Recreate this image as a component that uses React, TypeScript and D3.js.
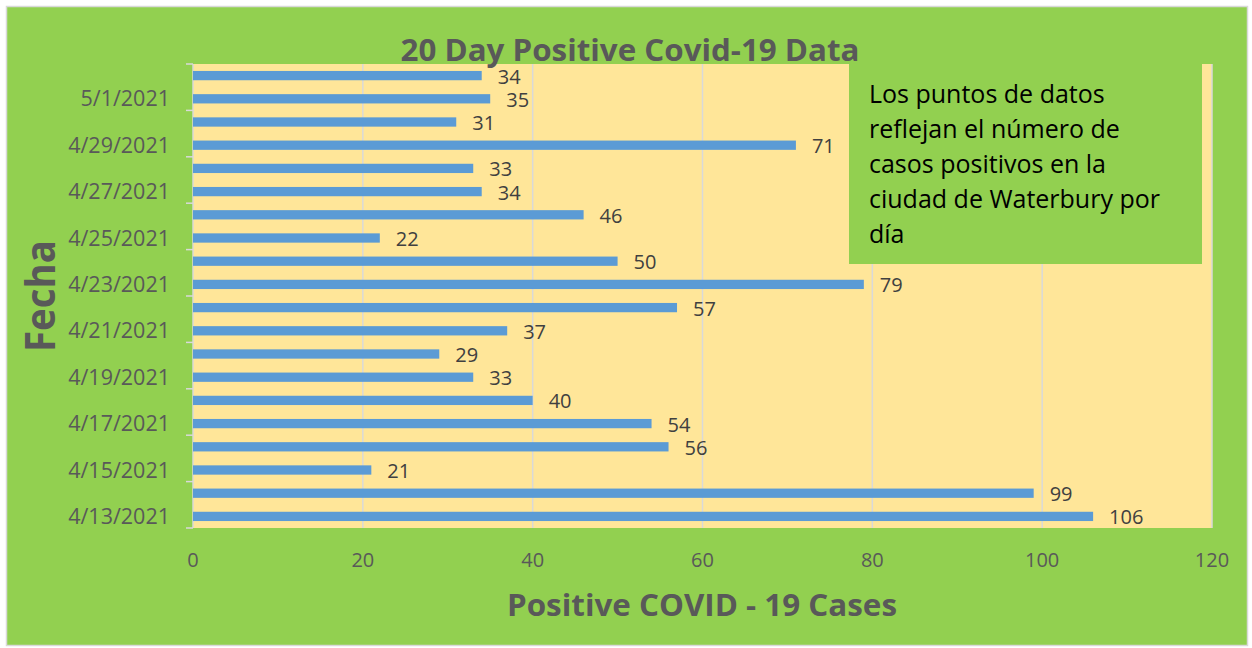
import React from "react";
import * as d3 from "d3";

const categories: string[] = [
  "4/13/2021", "4/14/2021", "4/15/2021", "4/16/2021", "4/17/2021",
  "4/18/2021", "4/19/2021", "4/20/2021", "4/21/2021", "4/22/2021",
  "4/23/2021", "4/24/2021", "4/25/2021", "4/26/2021", "4/27/2021",
  "4/28/2021", "4/29/2021", "4/30/2021", "5/1/2021", "5/2/2021",
];
const cases: number[] = [106, 99, 21, 56, 54, 40, 33, 29, 37, 57, 79, 50, 22, 46, 34, 33, 71, 31, 35, 34];
const xTicks: number[] = [0, 20, 40, 60, 80, 100, 120];
const labeledCategories: string[] = categories.filter((_, i) => i % 2 === 0);
const title = "20 Day Positive Covid-19 Data";
const xTitle = "Positive COVID - 19 Cases";
const yTitle = "Fecha";
const noteLines: string[] = [
  "Los puntos de datos",
  "reflejan el número de",
  "casos positivos en la",
  "ciudad de Waterbury por",
  "día",
];

const W = 1252;
const H = 648;
const plot = { left: 193, right: 1212, top: 64, bottom: 528 };
const FONT = "'Open Sans', 'DejaVu Sans', sans-serif";

export default function App() {
  const x = d3.scaleLinear().domain([0, 120]).range([plot.left, plot.right]);
  const y = d3
    .scaleBand<string>()
    .domain([...categories].reverse())
    .range([plot.top, plot.bottom])
    .paddingInner(0.6)
    .paddingOuter(0.3);
  const band = y.bandwidth();
  const tickYs = d3.range(0, categories.length + 1, 2).map((i) => plot.bottom - i * ((plot.bottom - plot.top) / categories.length));

  return (
    <svg
      width={W}
      height={H}
      style={{ position: "absolute", left: 0, top: 0, display: "block" }}
      fontFamily={FONT}
    >
      <rect x={6.5} y={6.5} width={1241} height={639} fill="#92D050" stroke="#D9D9D9" strokeWidth={1.5} />
      <rect x={plot.left} y={plot.top} width={plot.right - plot.left} height={plot.bottom - plot.top} fill="#FFE699" />
      {xTicks.slice(1).map((t) => (
        <line key={"g" + t} x1={x(t)} x2={x(t)} y1={plot.top} y2={plot.bottom} stroke="#D9D9D9" strokeWidth={1.5} />
      ))}
      <line x1={plot.left} x2={plot.left} y1={plot.top} y2={plot.bottom} stroke="#D9D9D9" strokeWidth={1.5} />
      {tickYs.map((ty, i) => (
        <line key={"t" + i} x1={plot.left - 7} x2={plot.left} y1={ty} y2={ty} stroke="#D9D9D9" strokeWidth={1.5} />
      ))}
      {categories.map((c, i) => (
        <rect
          key={c}
          x={x(0)}
          y={y(c) as number}
          width={x(cases[i]) - x(0)}
          height={band}
          fill="#5B9BD5"
        />
      ))}
      {categories.map((c, i) => (
        <text
          key={"l" + c}
          x={x(cases[i]) + 16}
          y={(y(c) as number) + band / 2 + 8}
          fontSize={20}
          fill="#404040"
        >
          {cases[i]}
        </text>
      ))}
      {labeledCategories.map((c) => (
        <text
          key={"c" + c}
          x={170}
          y={(y(c) as number) + band / 2 + 7.5}
          fontSize={21.5}
          fill="#595959"
          textAnchor="end"
        >
          {c}
        </text>
      ))}
      {xTicks.map((t) => (
        <text key={"x" + t} x={x(t)} y={567} fontSize={20} fill="#595959" textAnchor="middle">
          {t}
        </text>
      ))}
      <text x={630} y={61} fontSize={31} fontWeight="bold" fill="#595959" textAnchor="middle" textLength={459} lengthAdjust="spacingAndGlyphs">
        {title}
      </text>
      <text x={702} y={616} fontSize={31} fontWeight="bold" fill="#595959" textAnchor="middle" textLength={390} lengthAdjust="spacingAndGlyphs">
        {xTitle}
      </text>
      <text
        transform={`translate(55, 296) rotate(-90)`}
        fontSize={41}
        fontWeight="bold"
        fill="#595959"
        textAnchor="middle"
        textLength={112}
        lengthAdjust="spacingAndGlyphs"
      >
        {yTitle}
      </text>
      <rect x={849} y={64} width={353} height={200} fill="#92D050" />
      {noteLines.map((ln, i) => (
        <text key={"n" + i} x={869} y={103 + i * 35} fontSize={25} fill="#000000">
          {ln}
        </text>
      ))}
    </svg>
  );
}
